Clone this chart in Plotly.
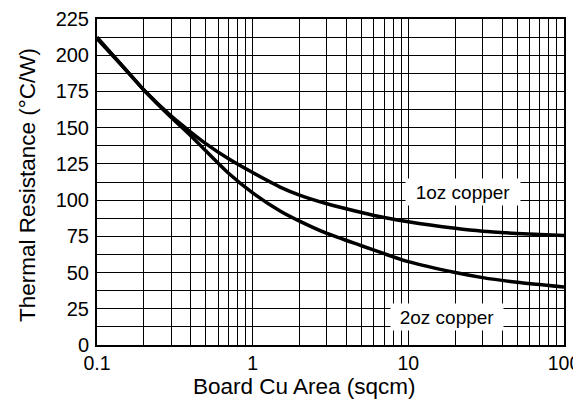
import plotly.graph_objects as go

area = [0.1, 0.15, 0.2, 0.3, 0.4, 0.5, 0.7, 1, 1.5, 2, 3, 5, 7, 10, 20, 30, 50, 100]
r_1oz = [211.5, 191, 176, 158, 147, 139, 128.5, 119, 109, 103.5, 97.5, 91.5, 88, 85, 80.5, 78.5, 77, 75.5]
r_2oz = [212.5, 191, 176, 157, 144.5, 134, 118.5, 105, 92.5, 85.5, 77, 68.5, 63, 57.5, 50, 46.5, 43.3, 40]
x_ticks = [0.1, 1, 10, 100]
x_ticklabels = ["0.1", "1", "10", "100"]
y_ticks = [0, 25, 50, 75, 100, 125, 150, 175, 200, 225]

FONT = "Liberation Sans, Arial, sans-serif"

fig = go.Figure()
for name, vals in [("1oz copper", r_1oz), ("2oz copper", r_2oz)]:
    fig.add_trace(go.Scatter(x=area, y=vals, mode="lines", name=name,
                             line=dict(color="black", width=3.5, shape="spline", smoothing=0.6),
                             showlegend=False, hoverinfo="skip", cliponaxis=True))

fig.update_layout(
    width=573, height=405,
    margin=dict(l=89, r=17, t=11, b=68, autoexpand=False),
    paper_bgcolor="white", plot_bgcolor="white",
    font=dict(family=FONT, color="black"),
)
fig.update_xaxes(
    type="log", range=[-1, 2], automargin=False,
    tickvals=x_ticks, ticktext=x_ticklabels,
    tickfont=dict(size=19.5, family=FONT, color="black"),
    showgrid=True, gridcolor="black", gridwidth=1,
    minor=dict(dtick="D1", showgrid=True, gridcolor="black", gridwidth=1, ticks=""),
    showline=True, linecolor="black", linewidth=2, mirror=True,
    ticks="", zeroline=False, ticklabelstandoff=0,
)
fig.update_yaxes(
    range=[0, 225], automargin=False,
    tickvals=y_ticks,
    tickfont=dict(size=20, family=FONT, color="black"),
    showgrid=True, gridcolor="black", gridwidth=1,
    minor=dict(dtick=12.5, showgrid=True, gridcolor="black", gridwidth=1, ticks=""),
    showline=True, linecolor="black", linewidth=2, mirror=True,
    ticks="", zeroline=False, ticklabelstandoff=2,
)

# axis titles
fig.add_annotation(text="Board Cu Area (sqcm)", xref="paper", yref="paper",
                   x=(304 - 97) / 467, y=-(386 - 345) / 326, showarrow=False,
                   xanchor="center", yanchor="middle",
                   font=dict(size=22.5, family=FONT, color="black"))
fig.add_annotation(text="Thermal Resistance (°C/W)", xref="paper", yref="paper",
                   x=(28 - 97) / 467, y=(345 - 185) / 326, showarrow=False,
                   xanchor="center", yanchor="middle", textangle=-90,
                   font=dict(size=22.5, family=FONT, color="black"))

# curve labels
fig.add_annotation(text="1oz copper", x=1.354, y=105.6, xref="x", yref="y",
                   showarrow=False, bgcolor="white", width=112, height=24, borderpad=1,
                   font=dict(size=19, family=FONT, color="black"))
fig.add_annotation(text="2oz copper", x=1.251, y=19.3, xref="x", yref="y",
                   showarrow=False, bgcolor="white", width=110, height=24, borderpad=1,
                   font=dict(size=19, family=FONT, color="black"))

fig.write_html("out.html")
